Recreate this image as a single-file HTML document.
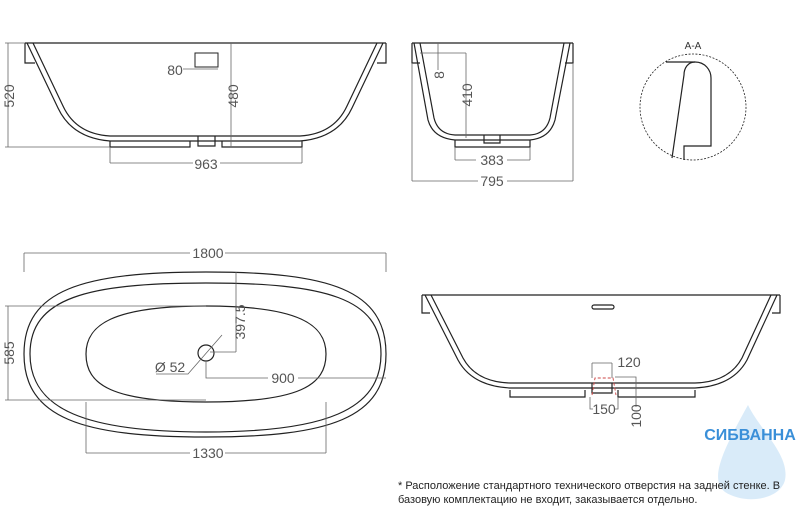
<!DOCTYPE html>
<html><head><meta charset="utf-8"><style>
body{margin:0;background:#fff}
svg{display:block}
text{font-family:"Liberation Sans Narrow","Liberation Sans","DejaVu Sans",sans-serif;fill:#444}
.d{font-size:14px;fill:#555}
</style></head><body>
<svg width="800" height="512" viewBox="0 0 800 512" xmlns="http://www.w3.org/2000/svg">
<g fill="none" stroke="#222" stroke-width="1.2">
<!-- top left view -->
<path d="M25,43 H386"/>
<path d="M25,43 V63 H35 M386,43 V63 H377"/>
<path d="M27,43 L58,108 Q72,138 110,141 L300,141 Q338,138 352,108 L383,43"/>
<path d="M33,43 L63,106 Q76,134 110,136 L300,136 Q334,134 347,106 L377,43"/>
<path d="M110,141 V147 H190 V141 M222,141 V147 H302 V141"/>
<path d="M198,136 V146 H215 V136"/>
<path d="M195,53 H218 V67 H195 Z" stroke-width="1"/>
<!-- top middle -->
<path d="M412,43 H573"/>
<path d="M412,43 V63 H420 M573,43 V63 H565"/>
<path d="M414,43 L428,120 Q433,138 455,140 L530,140 Q550,138 555,120 L570,43"/>
<path d="M420,43 L434,118 Q438,134 455,135 L530,135 Q546,134 550,118 L564,43"/>
<path d="M455,140 V147 H530 V140"/>
<path d="M484,135 V143 H500 V135"/>
<!-- A-A -->
<circle cx="693" cy="107" r="53" stroke-dasharray="2,1.5" stroke-width="0.8"/>
<path d="M666,62 H695 C705,62 711,70 711,78 V146 H684 V160"/>
<path d="M695,62 C688,62 684,68 684,75 L672,158"/>
<!-- plan view -->
<path d="M206,272 C330,272 386,290 386,354 C386,418 330,437 206,437 C82,437 24,418 24,354 C24,290 82,272 206,272 Z"/>
<path d="M206,283 C325,283 381,298 381,354 C381,410 325,432 206,432 C87,432 30,410 30,354 C30,298 87,283 206,283 Z"/>
<path d="M206,306 C300,306 326,325 326,354 C326,385 300,402 206,402 C112,402 86,385 86,354 C86,325 112,306 206,306 Z"/>
<circle cx="206" cy="353" r="8"/>
<!-- bottom right view -->
<path d="M422,295 H780"/>
<path d="M422,295 V313 H430 M780,295 V313 H772"/>
<path d="M425,295 L458,360 Q472,386 510,388 L695,388 Q733,386 747,360 L777,295"/>
<path d="M431,295 L463,358 Q476,382 510,383 L695,383 Q729,382 742,358 L771,295"/>
<path d="M510,390 V397 H585 V390 M618,390 V397 H695 V390"/>
<path d="M592,383 V393 H612 V383"/>
<rect x="592" y="305" width="22" height="4" rx="2"/>
</g>
<path d="M592,395 L595,378 H613 L616,395" fill="none" stroke="#c44" stroke-width="0.9" stroke-dasharray="3,2"/>
<!-- dimension lines -->
<g fill="none" stroke="#666" stroke-width="0.8">
<path d="M8,43 V147 M5,43 H25 M5,147 H110"/>
<path d="M231,43 V147"/>
<path d="M110,147 V163 M302,147 V163 M110,163 H193 M220,163 H302"/>
<path d="M183,69 H218"/>
<path d="M412,63 V181 M573,63 V181 M412,181 H478 M507,181 H573"/>
<path d="M455,147 V160 M530,147 V160 M455,160 H476 M507,160 H530"/>
<path d="M466,53 V138 M420,53 H466"/>
<path d="M438,43 V70"/>
<path d="M24,253 V272 M386,253 V272 M24,253 H190 M225,253 H386"/>
<path d="M8,306 V400 M5,306 H206 M5,400 H206"/>
<path d="M236,272 V352 M210,352 H236"/>
<path d="M206,361 V378 H268 M298,378 H386"/>
<path d="M156,374 H188 L222,335"/>
<path d="M86,402 V453 M326,402 V453 M86,453 H190 M225,453 H326"/>
<path d="M592,363 H612 M592,363 V378 M612,363 V378"/>
<path d="M615,377 H636 V407"/>
<path d="M590,397 V409 H593 M614,409 H618 V397"/>
</g>
<!-- labels -->
<text class="d" transform="translate(14,96) rotate(-90)" text-anchor="middle">520</text>
<text class="d" transform="translate(238,96) rotate(-90)" text-anchor="middle">480</text>
<text class="d" x="175" y="75" text-anchor="middle">80</text>
<text class="d" x="206" y="169" text-anchor="middle">963</text>
<text class="d" transform="translate(472,95) rotate(-90)" text-anchor="middle">410</text>
<text class="d" transform="translate(444,75) rotate(-90)" text-anchor="middle">8</text>
<text class="d" x="492" y="165" text-anchor="middle">383</text>
<text class="d" x="492" y="186" text-anchor="middle">795</text>
<text x="693" y="49" text-anchor="middle" style="font-size:10px;fill:#333">A-A</text>
<text class="d" x="208" y="258" text-anchor="middle">1800</text>
<text class="d" transform="translate(14,353) rotate(-90)" text-anchor="middle">585</text>
<text class="d" transform="translate(245,322) rotate(-90)" text-anchor="middle">397.5</text>
<text class="d" x="170" y="372" text-anchor="middle">Ø 52</text>
<text class="d" x="283" y="383" text-anchor="middle">900</text>
<text class="d" x="208" y="458" text-anchor="middle">1330</text>
<text class="d" x="629" y="367" text-anchor="middle">120</text>
<text class="d" x="604" y="414" text-anchor="middle">150</text>
<text class="d" transform="translate(641,416) rotate(-90)" text-anchor="middle">100</text>
<!-- logo -->
<path d="M748,405 C760,430 790,455 785,480 C780,500 745,505 725,492 C710,480 720,455 748,405 Z" fill="#cfe6f7" opacity="0.8"/>
<text x="750" y="440" text-anchor="middle" style="font-family:'Liberation Sans',sans-serif;font-size:16px;font-weight:bold;fill:#3a8fd8">СИБВАННА</text>
<text x="398" y="489" style="font-family:'Liberation Sans',sans-serif;font-size:11px;fill:#222">* Расположение стандартного технического отверстия на задней стенке. В</text>
<text x="398" y="503" style="font-family:'Liberation Sans',sans-serif;font-size:11px;fill:#222">базовую комплектацию не входит, заказывается отдельно.</text>
</svg>
</body></html>
